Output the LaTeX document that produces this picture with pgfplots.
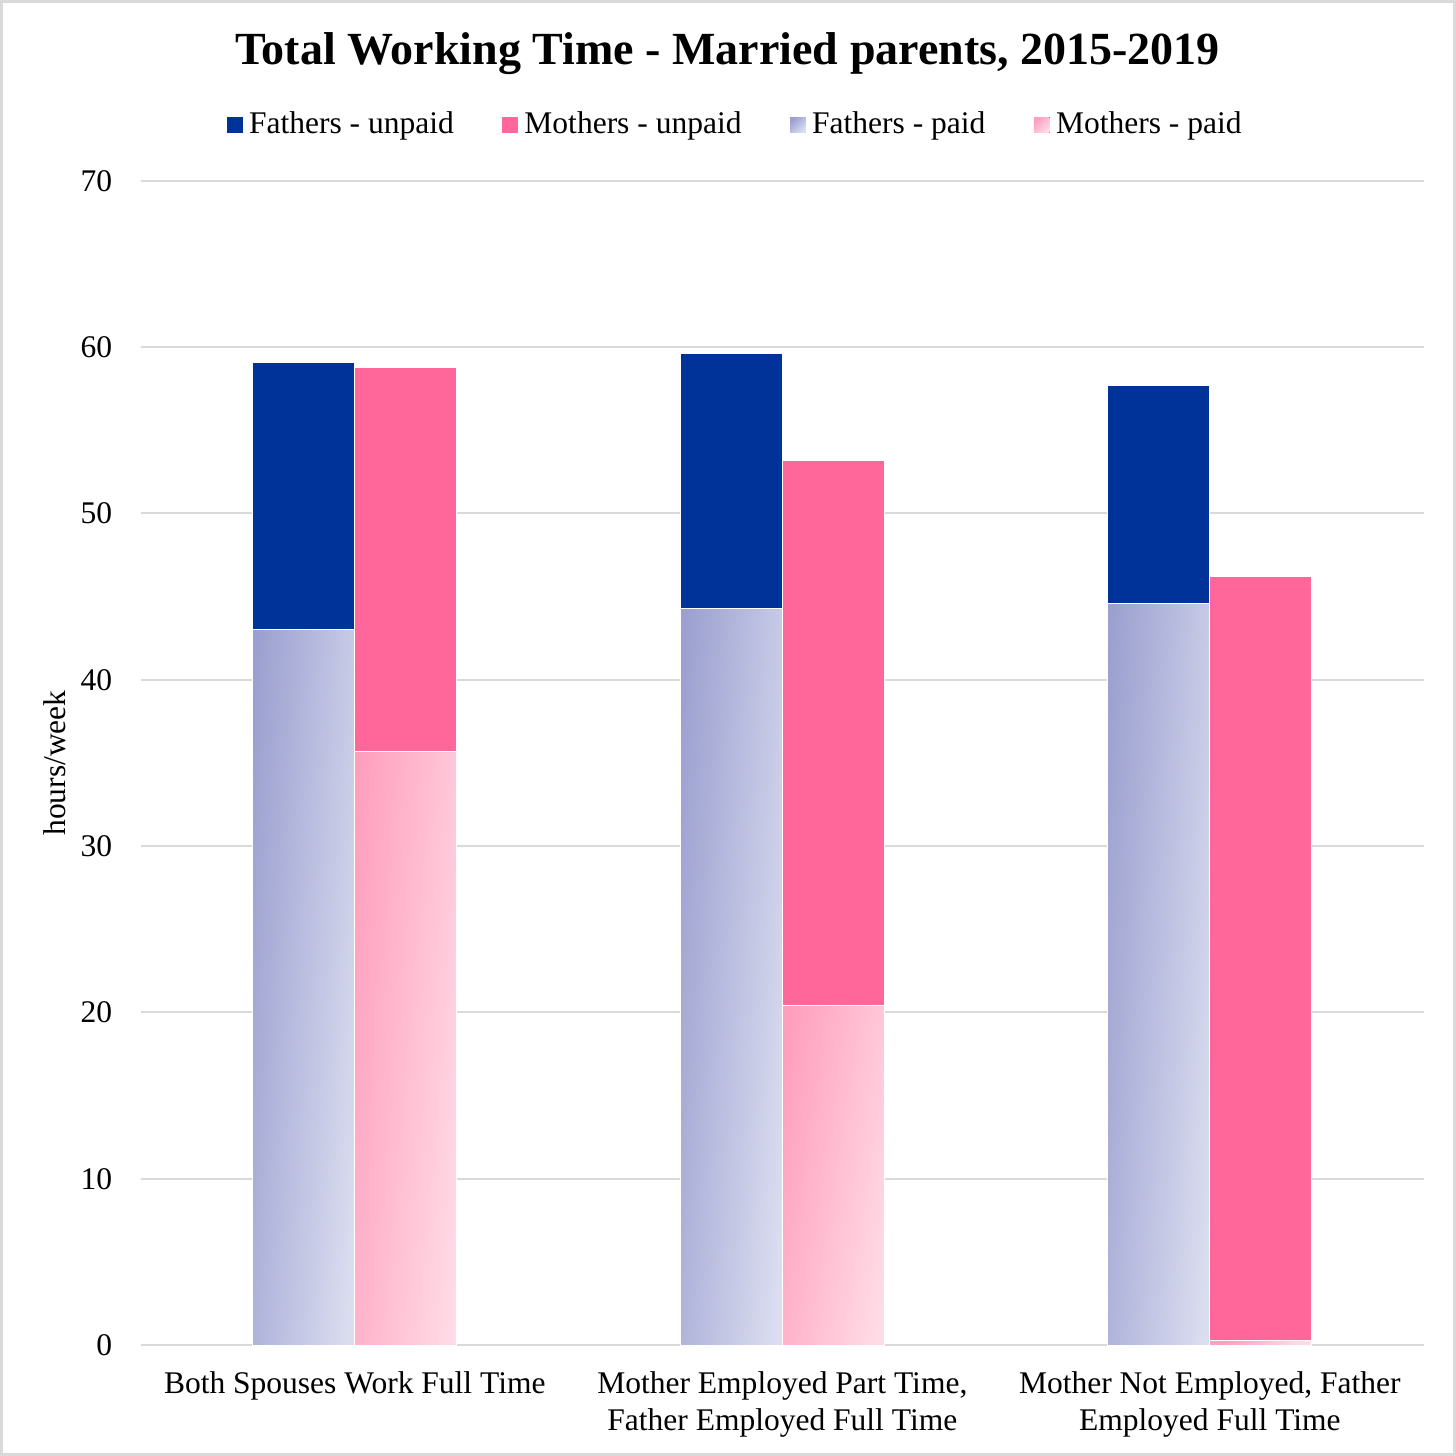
\documentclass[border=0pt]{standalone}
\usepackage{fontspec}
\setmainfont{Liberation Serif}
\usepackage{pgfplots}
\pgfplotsset{compat=1.18}

\definecolor{fathersunpaid}{HTML}{003399}
\definecolor{mothersunpaid}{HTML}{FF6699}
\definecolor{fpaidA}{HTML}{9BA0D0}
\definecolor{fpaidB}{HTML}{DCDEF0}
\definecolor{mpaidA}{HTML}{FF9FBE}
\definecolor{mpaidB}{HTML}{FFDBE6}
\definecolor{gridgray}{HTML}{D9D9D9}

\pgfplotsset{
  fatherbar/.style={bar shift=-0.1193, draw=white, line width=0.3pt},
  motherbar/.style={bar shift=0.1193, draw=white, line width=0.3pt},
  % gradient from top-left (dark) to bottom-right (light), nearly horizontal on tall bars
  fpaid/.style={left color=fpaidA, right color=fpaidB, shading angle=#1},
  fpaid/.default=86,
  mpaid/.style={left color=mpaidA, right color=mpaidB, shading angle=#1},
  mpaid/.default=86,
}

\begin{document}
\begin{tikzpicture}
\useasboundingbox (-44.74pt,-35.22pt) rectangle (417.26pt,426.78pt);
\begin{axis}[
  at={(0,0)}, anchor=south west,
  scale only axis, width=407pt, height=369.4pt,
  ybar, bar width=0.2386,
  xmin=-0.5, xmax=2.5, ymin=0, ymax=70,
  xtick={0,1,2},
  xticklabels={Both Spouses Work Full Time, {Mother Employed Part Time,\\Father Employed Full Time}, {Mother Not Employed, Father\\Employed Full Time}},
  ytick={0,10,...,70},
  ymajorgrids, grid style={gridgray, line width=0.6pt},
  axis line style={draw=none},
  major tick length=0pt,
  tick style={draw=none},
  /pgf/number format/assume math mode=true,
  tick label style={font=\fontsize{10}{11.5}\selectfont},
  yticklabel style={xshift=-5.6pt},
  xticklabel style={align=center, yshift=-5pt},
  ylabel={hours/week},
  ylabel style={at={(axis description cs:-0.0592,0.5)}, anchor=base, font=\fontsize{10}{12}\selectfont},
  title={Total Working Time - Married parents, 2015-2019},
  every axis title/.style={at={(axis description cs:0.4573,1.0996)}, anchor=base,
    font=\fontsize{14.6}{17}\selectfont\bfseries},
  legend columns=4,
  legend style={draw=none, fill=none, at={(0.465,1.048)}, anchor=center,
    font=\fontsize{10}{12}\selectfont,
    /tikz/every even column/.append style={column sep=13.4pt}},
  legend image code/.code={\fill[#1] (0pt,-2.5pt) rectangle (5pt,2.5pt);},
]
\addlegendimage{fill=fathersunpaid, draw=none}
\addlegendentry{Fathers - unpaid}
\addlegendimage{fill=mothersunpaid, draw=none}
\addlegendentry{Mothers - unpaid}
\addlegendimage{fpaid=45, draw=none}
\addlegendentry{Fathers - paid}
\addlegendimage{mpaid=45, draw=none}
\addlegendentry{Mothers - paid}

% totals (paid + unpaid); the unpaid part is what stays visible above the paid bar
\addplot[fatherbar, fill=fathersunpaid] coordinates {(0,59.1) (1,59.6) (2,57.7)};
\addplot[motherbar, fill=mothersunpaid] coordinates {(0,58.8) (1,53.2) (2,46.2)};

% paid hours, one plot per bar so each bar gets its own gradient
\addplot[fatherbar, fpaid] coordinates {(0,43.0)};
\addplot[fatherbar, fpaid] coordinates {(1,44.3)};
\addplot[fatherbar, fpaid] coordinates {(2,44.6)};
\addplot[motherbar, mpaid=85] coordinates {(0,35.7)};
\addplot[motherbar, mpaid=81] coordinates {(1,20.4)};
\addplot[motherbar, mpaid=45] coordinates {(2,0.3)};
\end{axis}
\draw[gridgray, line width=0.9pt] (-44.29pt,-34.77pt) rectangle (416.81pt,426.33pt);
\end{tikzpicture}
\end{document}
